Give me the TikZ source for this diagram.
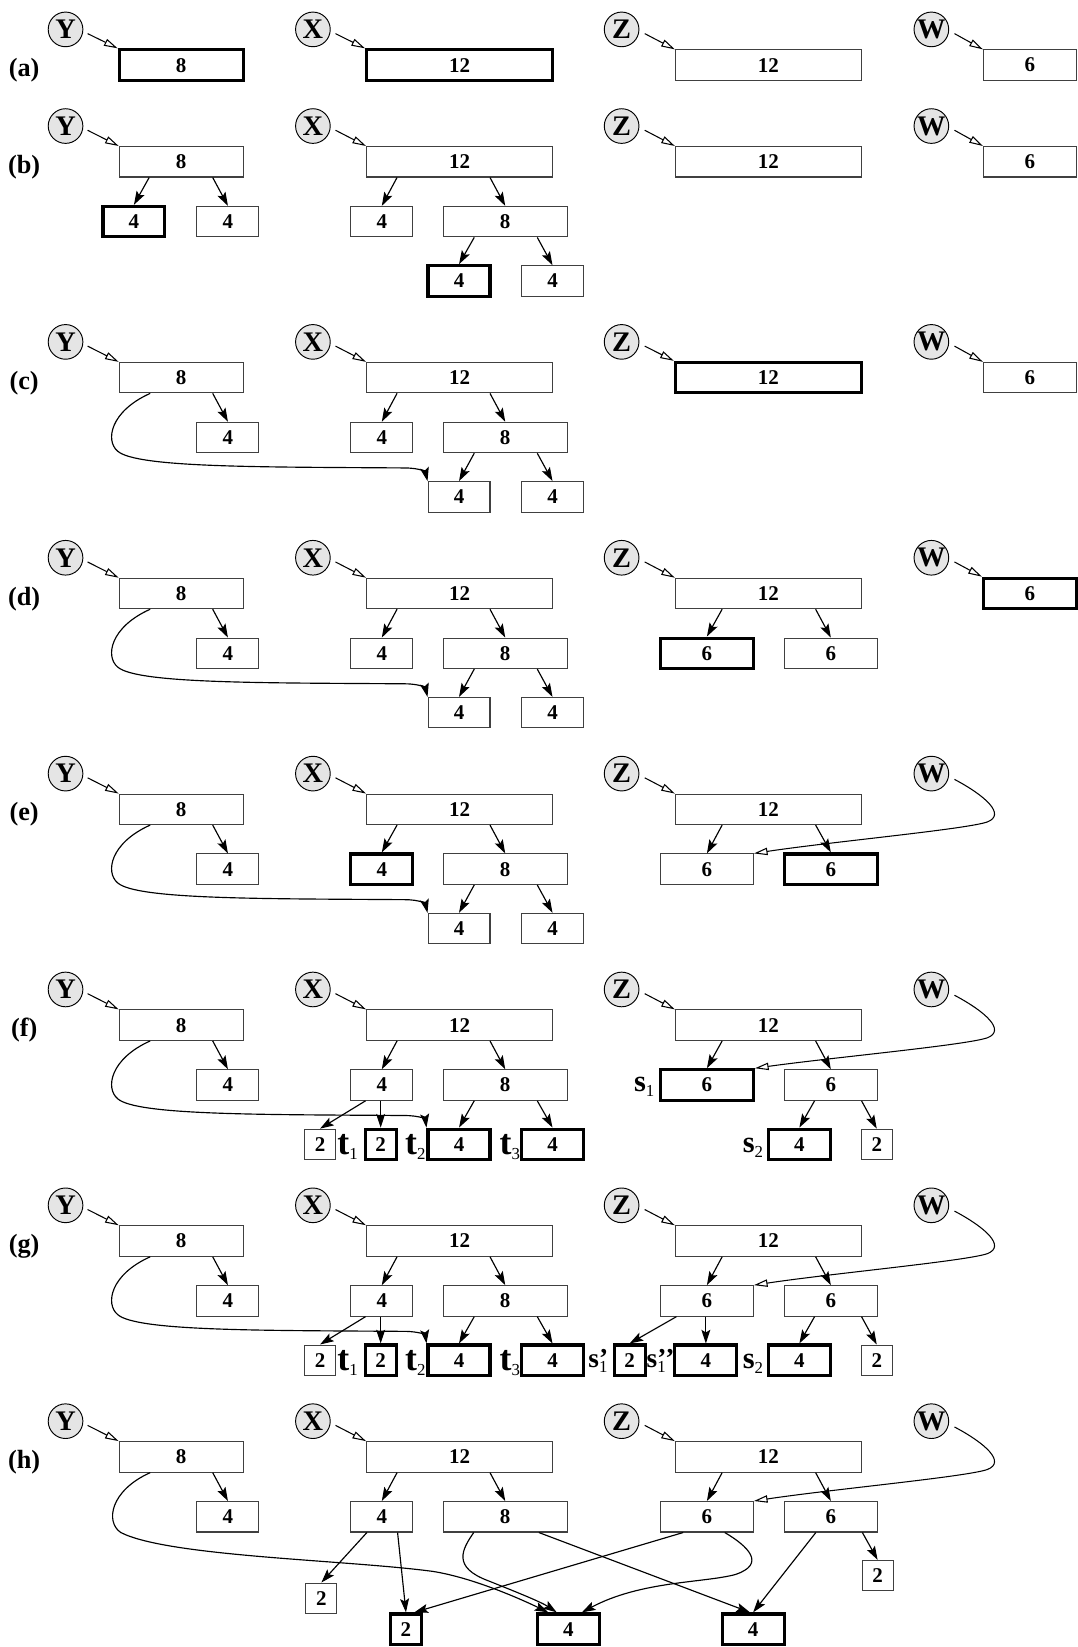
\documentclass[tikz,border=0pt]{standalone}
\usepackage{fontspec}
\setmainfont{Liberation Serif}
\usetikzlibrary{arrows.meta,calc}
\newcommand\kidL[2]{\draw[carr] ($(#1.south -| #2.north)+(14.5,0)$) -- (#2.north);}
\newcommand\kidR[2]{\draw[carr] ($(#1.south -| #2.north)+(-14.5,0)$) -- (#2.north);}
\newcommand\ycurve[3]{\draw[carr] ($(#1.south)+(-29.5,0)$) .. controls (105,#3+32) and (100,#3+60) .. (112,#3+70) .. controls (130,#3+86) and (250,#3+85) .. (385,#3+86) .. controls (400,#3+86) and (405,#3+90) .. (#2.north west);}
\newcommand\wcurve[3]{\draw[parr] ($(#1)+(22,5.5)$) .. controls (938,#3-13) and (958,#3+5) .. (940,#3+12) .. controls (920,#3+19) and (790,#3+31) .. (#2.north east);}
\newcommand\sbs[1]{\raisebox{-5pt}{\fontsize{16}{16}\selectfont\mdseries #1}}
\newcommand\psb[2]{\setbox0=\hbox{#1}\dimen0=\wd0\rlap{\box0}\makebox[\dimen0][l]{\sbs{#2}}}
\begin{document}
\begin{tikzpicture}[x=1pt,y=-1pt,
  bxn/.style={draw=black!75, line width=1pt, minimum height=29pt, inner sep=0pt, font=\fontsize{20}{20}\selectfont\bfseries},
  bxt/.style={bxn, draw=black, line width=3pt},
  w2/.style={minimum width=29.5pt},
  w4/.style={minimum width=59pt},
  w6/.style={minimum width=88.5pt},
  w8/.style={minimum width=118pt},
  w12/.style={minimum width=177pt},
  circ/.style={circle, draw=black, fill=black!10, line width=0.9pt, minimum size=33pt, inner sep=0pt, font=\fontsize{27}{27}\selectfont\bfseries},
  lab/.style={inner sep=0pt, font=\fontsize{25}{25}\selectfont\bfseries},
  parr/.style={-{Triangle[open,length=13pt,width=7pt]}, line width=1pt},
  carr/.style={-{Stealth[length=13pt,width=8.5pt,inset=2.5pt]}, line width=1.1pt},
  tl/.style={inner sep=0pt, anchor=base west, font=\fontsize{34}{34}\selectfont\bfseries},
  sl/.style={inner sep=0pt, anchor=base west, font=\fontsize{29}{29}\selectfont\bfseries},
  sg/.style={inner sep=0pt, anchor=base west, font=\fontsize{26}{26}\selectfont\bfseries}]
\useasboundingbox (0,0) rectangle (1026,1568);

% common parts of every row
\foreach \rl/\R/\ys/\xs/\zs in {a/62/bxt/bxt/bxn, b/154/bxn/bxn/bxn, c/359.5/bxn/bxn/bxt, d/565/bxn/bxn/bxn, e/770.5/bxn/bxn/bxn, f/976/bxn/bxn/bxn, g/1181.5/bxn/bxn/bxn, h/1387/bxn/bxn/bxn}{
  \node[lab] (\rl lab) at (23,\R+5) {(\rl)};
  \node[circ] (\rl Yc) at (62.4,\R-34) {Y};
  \node[circ] (\rl Xc) at (297.9,\R-34) {X};
  \node[circ] (\rl Zc) at (591.8,\R-34) {Z};
  \node[circ] (\rl Wc) at (886.7,\R-34) {W};
  \node[\ys,w8] (\rl Yr) at (172.5,\R) {8};
  \node[\xs,w12] (\rl Xr) at (437.5,\R) {12};
  \node[\zs,w12] (\rl Zr) at (731.5,\R) {12};
  \draw[parr] ($(\rl Yc)+(21,4)$) -- (\rl Yr.north west);
  \draw[parr] ($(\rl Xc)+(21.5,4)$) -- (\rl Xr.north west);
  \draw[parr] ($(\rl Zc)+(22,4)$) -- (\rl Zr.north west);
}
% W roots (a)-(d)
\foreach \rl/\R/\ws in {a/62/bxn, b/154/bxn, c/359.5/bxn, d/565/bxt}{
  \node[\ws,w6] (\rl Wr) at (980.5,\R) {6};
  \draw[parr] ($(\rl Wc)+(22,4)$) -- (\rl Wr.north west);
}

% row (b)
\node[bxt,w4] (bYl) at (127.5,211) {4};
\node[bxn,w4] (bYk) at (217,211) {4};
\node[bxn,w4] (bXa) at (363.5,211) {4};
\node[bxn,w8] (bXb) at (481,211) {8};
\node[bxt,w4] (bXba) at (437,267.5) {4};
\node[bxn,w4] (bXbb) at (526,267.5) {4};
\kidL{bYr}{bYl}
\kidR{bYr}{bYk}
\kidL{bXr}{bXa}
\kidR{bXr}{bXb}
\kidL{bXb}{bXba}
\kidR{bXb}{bXbb}

% rows (c)-(g): Y and X trees
\foreach \rl/\R/\xas/\gcs in {c/359.5/bxn/bxn, d/565/bxn/bxn, e/770.5/bxt/bxn, f/976/bxn/bxt, g/1181.5/bxn/bxt}{
  \node[bxn,w4] (\rl Yk) at (217,\R+57) {4};
  \node[\xas,w4] (\rl Xa) at (363.5,\R+57) {4};
  \node[bxn,w8] (\rl Xb) at (481,\R+57) {8};
  \node[\gcs,w4] (\rl Xba) at (437,\R+113.5) {4};
  \node[\gcs,w4] (\rl Xbb) at (526,\R+113.5) {4};
  \kidR{\rl Yr}{\rl Yk}
  \kidL{\rl Xr}{\rl Xa}
  \kidR{\rl Xr}{\rl Xb}
  \kidL{\rl Xb}{\rl Xba}
  \kidR{\rl Xb}{\rl Xbb}
  \ycurve{\rl Yr}{\rl Xba}{\R}
}

% rows (d)-(h): Z children
\foreach \rl/\R/\zas/\zbs in {d/565/bxt/bxn, e/770.5/bxn/bxt, f/976/bxt/bxn, g/1181.5/bxn/bxn, h/1387/bxn/bxn}{
  \node[\zas,w6] (\rl Za) at (673,\R+57) {6};
  \node[\zbs,w6] (\rl Zb) at (791,\R+57) {6};
  \kidL{\rl Zr}{\rl Za}
  \kidR{\rl Zr}{\rl Zb}
}
% rows (e)-(h): W pointer curves
\foreach \rl/\R in {e/770.5, f/976, g/1181.5, h/1387}{
  \wcurve{\rl Wc}{\rl Za}{\R}
}

% rows (f) and (g): deeper nodes
\foreach \rl/\R in {f/976, g/1181.5}{
  \node[bxn,w2] (\rl Xaa) at (304.7,\R+113.5) {2};
  \node[bxt,w2] (\rl Xab) at (362.4,\R+113.5) {2};
  \draw[carr] ($(\rl Xa.south)+(-15.5,0)$) -- (\rl Xaa.north);
  \draw[carr] (\rl Xa.south -| \rl Xab.north) -- (\rl Xab.north);
  \node[bxt,w4] (\rl Zba) at (761,\R+113.5) {4};
  \node[bxn,w2] (\rl Zbb) at (834.7,\R+113.5) {2};
  \kidL{\rl Zb}{\rl Zba}
  \kidR{\rl Zb}{\rl Zbb}
  \node[tl] (\rl t1) at (321,\R+123) {t\sbs{1}};
  \node[tl] (\rl t2) at (385.5,\R+123) {t\sbs{2}};
  \node[tl] (\rl t3) at (475.5,\R+123) {t\sbs{3}};
  \node[sl] (\rl s2) at (707,\R+121) {s\sbs{2}};
}
\node[sl] (fs1) at (603.4,1039) {s\sbs{1}};

% row (g): Z left subtree
\node[bxt,w2] (gZaa) at (599.4,1295) {2};
\node[bxt,w4] (gZab) at (672,1295) {4};
\draw[carr] ($(gZa.south)+(-29,0)$) -- (gZaa.north);
\draw[carr] (gZa.south -| gZab.north) -- (gZab.north);
\node[sg] (gs1a) at (560,1302) {s\psb{’}{1}};
\node[sg] (gs1b) at (615.5,1302) {s\psb{’\kern-1pt’}{1}};

% row (h)
\node[bxn,w4] (hYk) at (217,1444) {4};
\node[bxn,w4] (hXa) at (363.5,1444) {4};
\node[bxn,w8] (hXb) at (481,1444) {8};
\node[bxn,w2] (hXaa) at (306,1521.6) {2};
\node[bxt,w2] (hB2) at (386.5,1551) {2};
\node[bxt,w4] (hM4) at (541,1551) {4};
\node[bxt,w4] (hR4) at (717,1551) {4};
\node[bxn,w2] (hZbb) at (835.5,1500) {2};
\kidR{hYr}{hYk}
\kidL{hXr}{hXa}
\kidR{hXr}{hXb}
\draw[carr] ($(hXa.south)+(-14.2,0)$) -- (hXaa.north);
\draw[carr] ($(hXa.south)+(15,0)$) -- (hB2.north);
\draw[carr] ($(hXb.south)+(-30,0)$) .. controls (440,1475) and (430,1492) .. (465,1505) .. controls (490,1515) and (515,1525) .. ($(hM4.north)+(-11,0)$);
\draw[carr] ($(hXb.south)+(32,0)$) -- ($(hR4.north)+(-3,0)$);
\draw[carr] ($(hZa.south)+(-22.6,0)$) -- ($(hB2.north)+(8,0)$);
\draw[carr] ($(hZa.south)+(17,0)$) .. controls (712,1472) and (730,1489) .. (700,1499) .. controls (670,1507) and (610,1505) .. ($(hM4.north)+(13,0)$);
\draw[carr] ($(hZb.south)+(-14.3,0)$) -- (hR4.north);
\kidR{hZb}{hZbb}
\draw[carr] ($(hYr.south)+(-29.5,0)$) .. controls (105,1419) and (100,1449) .. (115,1459) .. controls (160,1482) and (330,1485) .. (412,1496) .. controls (450,1502) and (495,1522) .. ($(hM4.north)+(-19,0)$);
\end{tikzpicture}
\end{document}
